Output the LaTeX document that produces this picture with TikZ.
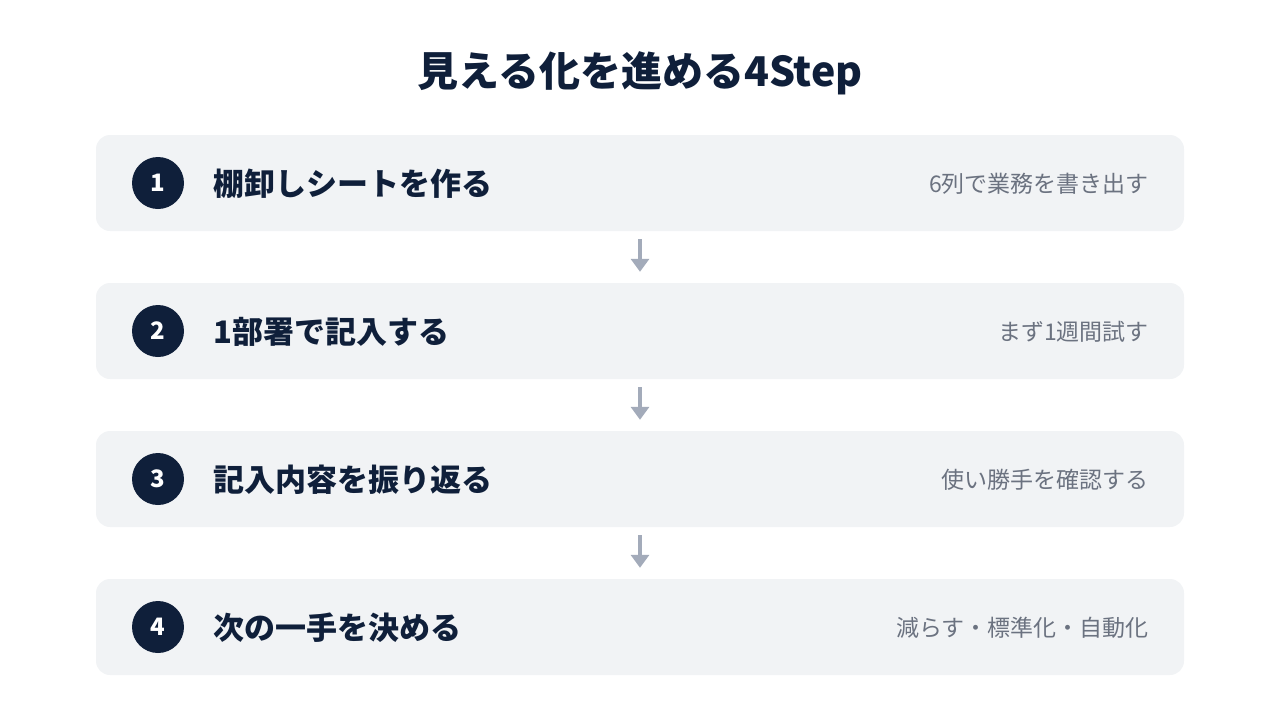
\documentclass[tikz,border=0pt]{standalone}
\usepackage{fontspec}
\setmainfont{Noto Sans CJK JP}
\usetikzlibrary{arrows.meta}
\definecolor{navy}{HTML}{0F1F3A}
\definecolor{boxbg}{HTML}{F1F3F5}
\definecolor{subgray}{HTML}{6B7280}
\definecolor{arrowgray}{HTML}{A3ABBA}
\tikzset{
  stepbox/.style={fill=boxbg, draw=none, rounded corners=14pt, minimum width=1088pt, minimum height=96pt, inner sep=0pt},
  numcircle/.style={circle, fill=navy, minimum size=52pt, inner sep=0pt, text=white, font=\fontsize{24}{24}\selectfont\bfseries},
  steplabel/.style={anchor=west, text=navy, inner sep=0pt, font=\fontsize{31}{31}\selectfont\bfseries},
  subtext/.style={anchor=east, text=subgray, inner sep=0pt, font=\fontsize{23}{23}\selectfont},
  flowarrow/.style={draw=arrowgray, line width=4pt, -{Triangle[width=18pt,length=13pt]}},
}
\begin{document}
\begin{tikzpicture}[x=1pt,y=-1pt]
\useasboundingbox (0,0) rectangle (1280,720);
\node[text=navy, font=\fontsize{41}{41}\selectfont\bfseries, inner sep=0pt] (title) at (640,73) {見える化を進める4Step};
\foreach \i/\y/\lab/\sub in {1/183/棚卸しシートを作る/6列で業務を書き出す,
                             2/331/1部署で記入する/まず1週間試す,
                             3/479/記入内容を振り返る/使い勝手を確認する,
                             4/627/次の一手を決める/減らす・標準化・自動化} {
  \node[stepbox] (box\i) at (640,\y) {};
  \node[numcircle] (num\i) at (158,\y) {\i};
  \node[steplabel] (lab\i) at (213,\y+1) {\lab};
  \node[subtext] (sub\i) at (1149,\y+1) {\sub};
}
\foreach \a/\b in {1/2,2/3,3/4} {
  \coordinate (s\a) at ([yshift=-8pt]box\a.south);
  \coordinate (e\a) at ([yshift=11pt]box\b.north);
  \draw[flowarrow] (s\a) -- (e\a);
}
\end{tikzpicture}
\end{document}
